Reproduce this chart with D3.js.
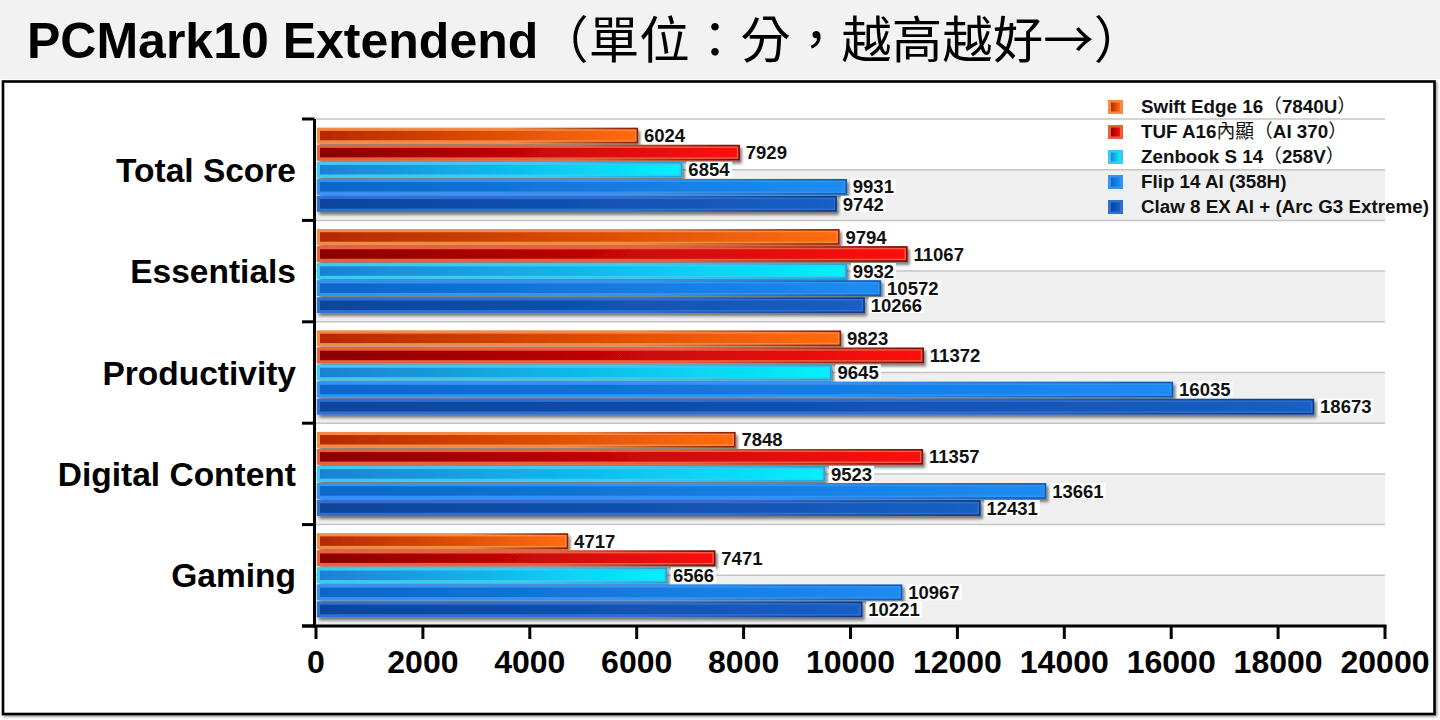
<!DOCTYPE html>
<html><head><meta charset="utf-8">
<script src="https://cdn.jsdelivr.net/npm/d3@7"></script>
<style>html,body{margin:0;padding:0;background:#fff;}svg{display:block;}</style>
</head><body>
<script>
const titleText = "PCMark10 Extendend（單位：分，越高越好→）";
const categories = ["Total Score", "Essentials", "Productivity", "Digital Content", "Gaming"];
const seriesNames = ["Swift Edge 16（7840U）", "TUF A16內顯（AI 370）", "Zenbook S 14（258V）", "Flip 14 AI (358H)", "Claw 8 EX AI + (Arc G3 Extreme)"];
const swiftValues = [6024, 9794, 9823, 7848, 4717];
const tufValues = [7929, 11067, 11372, 11357, 7471];
const zenbookValues = [6854, 9932, 9645, 9523, 6566];
const flipValues = [9931, 10572, 16035, 13661, 10967];
const clawValues = [9742, 10266, 18673, 12431, 10221];
const xTicks = [0, 2000, 4000, 6000, 8000, 10000, 12000, 14000, 16000, 18000, 20000];

const seriesValues = [swiftValues, tufValues, zenbookValues, flipValues, clawValues];
const styles = [
  {bevel:"#f58a45", left:"#b52a00", right:"#ff6c0a", edge:"#8e1c00"},
  {bevel:"#e8603e", left:"#8a0000", right:"#ff0d0d", edge:"#7a0808"},
  {bevel:"#3cc8f6", left:"#1f80d2", right:"#00f2ff", edge:"#1aa6dc"},
  {bevel:"#3592f0", left:"#0b66c9", right:"#1c8cf2", edge:"#0b5ab6"},
  {bevel:"#2e6fcf", left:"#08459b", right:"#1a5ec4", edge:"#093a86"}
];

const W = 1440, H = 720;
const svg = d3.select("body").append("svg").attr("width", W).attr("height", H);
const defs = svg.append("defs");

const sh = defs.append("filter").attr("id","shadow").attr("x","-5%").attr("y","-40%").attr("width","115%").attr("height","200%");
sh.append("feDropShadow").attr("dx",2).attr("dy",3).attr("stdDeviation",1.8).attr("flood-color","#000").attr("flood-opacity",0.5);
const fsh = defs.append("filter").attr("id","fshadow").attr("x","-2%").attr("y","-2%").attr("width","104%").attr("height","104%");
fsh.append("feDropShadow").attr("dx",1.5).attr("dy",1.5).attr("stdDeviation",1).attr("flood-color","#000").attr("flood-opacity",0.4);

styles.forEach((s,i)=>{
  const g = defs.append("linearGradient").attr("id","inner"+i).attr("x1","0").attr("x2","1").attr("y1","0").attr("y2","0");
  g.append("stop").attr("offset","0").attr("stop-color",s.left);
  g.append("stop").attr("offset","1").attr("stop-color",s.right);
  const e = defs.append("linearGradient").attr("id","edge"+i).attr("x1","0").attr("x2","1").attr("y1","0").attr("y2","0");
  e.append("stop").attr("offset","0").attr("stop-color",s.bevel);
  e.append("stop").attr("offset","0.6").attr("stop-color",s.bevel);
  e.append("stop").attr("offset","1").attr("stop-color",s.edge);
});

svg.append("rect").attr("x",0).attr("y",0).attr("width",W).attr("height",79).attr("fill","#f2f2f2");

const cjkRe = /[\u2190-\u21ff\u3000-\u9fff\uff00-\uffef]/;
function richText(sel, str, latinSize, cjkSize) {
  const runs = [];
  for (const ch of str) {
    const c = cjkRe.test(ch);
    if (runs.length && runs[runs.length-1].c === c) runs[runs.length-1].t += ch;
    else runs.push({c, t: ch});
  }
  runs.forEach(r => {
    sel.append("tspan").text(r.t)
      .attr("font-family", r.c ? "'Noto Sans CJK TC','Noto Sans CJK SC',sans-serif" : "'Liberation Sans',Arial,sans-serif")
      .attr("font-weight", r.c ? 400 : 700)
      .attr("font-size", r.c ? cjkSize : latinSize);
  });
}
const title = svg.append("text").attr("x",27).attr("y",58).attr("fill","#000");
richText(title, titleText, 50, 50.5);

svg.append("rect").attr("x",3).attr("y",81.5).attr("width",1431.5).attr("height",632.5)
  .attr("fill","#fff").attr("stroke","#000").attr("stroke-width",2.6).attr("filter","url(#fshadow)");

const x = d3.scaleLinear().domain([0, 20000]).range([316, 1385]);
const y = d3.scaleBand().domain(categories).range([119, 626]).paddingInner(0).paddingOuter(0);
const yi = d3.scaleBand().domain(d3.range(seriesNames.length)).range([0, y.bandwidth()]).paddingInner(0).paddingOuter(0.47);

const plot = svg.append("g");
categories.forEach(c => {
  plot.append("rect").attr("x",x(0)).attr("y",y(c)+y.bandwidth()/2).attr("width",x(20000)-x(0)).attr("height",y.bandwidth()/2).attr("fill","#efefef");
});
const gridYs = [];
categories.forEach(c => { gridYs.push(y(c)); gridYs.push(y(c)+y.bandwidth()/2); });
plot.selectAll("line.grid").data(gridYs).join("line")
  .attr("x1",x(0)).attr("x2",x(20000)).attr("y1",d=>d).attr("y2",d=>d)
  .attr("stroke","#c4c4c4").attr("stroke-width",1.5);

const barsG = svg.append("g");
const labelData = [];
categories.forEach((c, ci) => {
  seriesValues.forEach((vals, si) => {
    const v = vals[ci];
    const by = y(c) + yi(si);
    const bh = yi.bandwidth();
    const x0 = x(0) + 1, x1 = x(v);
    const g = barsG.append("g").attr("filter","url(#shadow)");
    g.append("rect").attr("x",x0).attr("y",by+0.8).attr("width",x1-x0).attr("height",bh-1.6)
      .attr("fill",styles[si].bevel);
    g.append("rect").attr("x",x0+3).attr("y",by+3.8).attr("width",Math.max(0,x1-x0-6)).attr("height",bh-7.6)
      .attr("fill","url(#inner"+si+")");
    g.append("rect").attr("x",x0+0.7).attr("y",by+1.5).attr("width",x1-x0-1.4).attr("height",bh-3)
      .attr("fill","none").attr("stroke","url(#edge"+si+")").attr("stroke-width",1.6);
    labelData.push({v, x: x1, y: by + bh/2});
  });
});

const lblG = svg.append("g");
labelData.forEach(d => {
  const t = lblG.append("text").attr("x", d.x + 6).attr("y", d.y).attr("dy","0.36em")
    .attr("font-family","'Liberation Sans',Arial,sans-serif").attr("font-weight",700).attr("font-size",18.5)
    .attr("fill","#111").text(d.v);
  const bb = t.node().getBBox();
  lblG.insert("rect", () => t.node()).attr("x", bb.x - 2).attr("y", d.y - 8).attr("width", bb.width + 4).attr("height", 16).attr("fill","#fff");
});

const axG = svg.append("g").attr("stroke","#000").attr("stroke-width",3).attr("stroke-linecap","butt");
axG.append("line").attr("x1",314.5).attr("x2",314.5).attr("y1",119).attr("y2",627.5);
axG.append("line").attr("x1",302).attr("x2",x(20000)+1.5).attr("y1",626).attr("y2",626);
const bounds = categories.map(c => y(c)).concat([y.range()[1]]);
axG.selectAll("line.yt").data(bounds).join("line").attr("x1",302).attr("x2",314.5).attr("y1",d=>d).attr("y2",d=>d);
axG.selectAll("line.xt").data(xTicks).join("line").attr("x1",d=>x(d)).attr("x2",d=>x(d)).attr("y1",626).attr("y2",639);

svg.append("g").selectAll("text").data(xTicks).join("text")
  .attr("x",d=>x(d)).attr("y",673).attr("text-anchor","middle")
  .attr("font-family","'Liberation Sans',Arial,sans-serif").attr("font-weight",700).attr("font-size",32)
  .attr("fill","#000").text(d=>d);

svg.append("g").selectAll("text").data(categories).join("text")
  .attr("x",296).attr("y",c=>y(c)+y.bandwidth()/2).attr("dy","0.36em").attr("text-anchor","end")
  .attr("font-family","'Liberation Sans',Arial,sans-serif").attr("font-weight",700).attr("font-size",33.5)
  .attr("fill","#000").text(c=>c);

const lg = svg.append("g");
seriesNames.forEach((n, i) => {
  const by = 113 + i * 25;
  const s = styles[i];
  lg.append("rect").attr("x",1108).attr("y",by-13).attr("width",15).attr("height",14).attr("fill",s.bevel);
  lg.append("rect").attr("x",1111).attr("y",by-10.5).attr("width",9).attr("height",9).attr("fill","url(#inner"+i+")");
  const t = lg.append("text").attr("x",1141).attr("y",by).attr("fill","#111");
  richText(t, n, 18.8, 18.8);
});
</script>
</body></html>
